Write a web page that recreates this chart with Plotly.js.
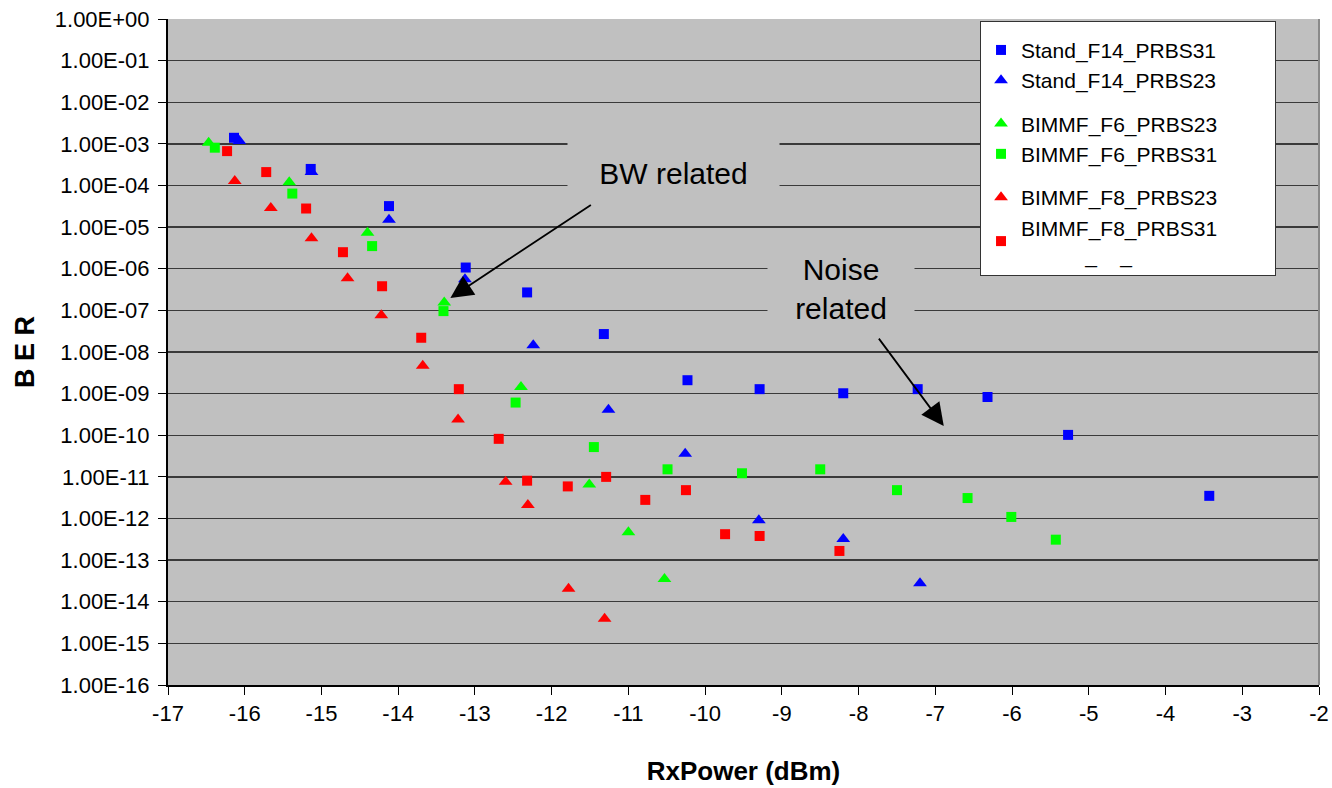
<!DOCTYPE html>
<html>
<head>
<meta charset="utf-8">
<script src="https://cdn.plot.ly/plotly-3.0.1.min.js"></script>
<style>html,body{margin:0;padding:0;background:#fff;}#chart{width:1332px;height:788px;}</style>
</head>
<body>
<div id="chart"></div>
<script>
// ---- data ----
const seriesNames = ["Stand_F14_PRBS31", "Stand_F14_PRBS23", "BIMMF_F6_PRBS23", "BIMMF_F6_PRBS31", "BIMMF_F8_PRBS23", "BIMMF_F8_PRBS31"];

const f14_31_x = [-16.14, -15.14, -14.12, -13.12, -12.32, -11.32, -10.23, -9.29, -8.20, -7.23, -6.32, -5.27, -3.43];
const f14_31_y = [1.4e-3, 2.5e-4, 3.2e-5, 1.07e-6, 2.7e-7, 2.7e-8, 2.1e-9, 1.28e-9, 1.02e-9, 1.28e-9, 8.3e-10, 1.02e-10, 3.5e-12];

const f14_23_x = [-16.07, -15.13, -14.12, -13.13, -12.24, -11.26, -10.26, -9.30, -8.20, -7.20];
const f14_23_y = [1.17e-3, 2.1e-4, 1.5e-5, 5.6e-7, 1.45e-8, 4.1e-10, 3.6e-11, 9.1e-13, 3.2e-13, 2.8e-14];

const f6_23_x = [-16.47, -15.42, -14.40, -13.40, -12.40, -11.51, -11.00, -10.53];
const f6_23_y = [1.07e-3, 1.2e-4, 7.3e-6, 1.55e-7, 1.45e-9, 6.6e-12, 4.7e-13, 3.5e-14];

const f6_31_x = [-16.39, -15.38, -14.34, -13.41, -12.47, -11.45, -10.49, -9.52, -8.50, -7.50, -6.58, -6.01, -5.43];
const f6_31_y = [8.1e-4, 6.4e-5, 3.5e-6, 9.6e-8, 6.1e-10, 5.2e-11, 1.52e-11, 1.22e-11, 1.52e-11, 4.8e-12, 3.1e-12, 1.09e-12, 3.1e-13];

const f8_23_x = [-16.13, -15.66, -15.13, -14.66, -14.22, -13.68, -13.22, -12.60, -12.31, -11.78, -11.31];
const f8_23_y = [1.28e-4, 2.9e-5, 5.4e-6, 5.9e-7, 7.6e-8, 4.7e-9, 2.4e-10, 7.6e-12, 2.1e-12, 2.06e-14, 3.9e-15];

const f8_31_x = [-16.23, -15.72, -15.20, -14.72, -14.21, -13.70, -13.21, -12.69, -12.32, -11.79, -11.29, -10.78, -10.25, -9.74, -9.29, -8.25];
const f8_31_y = [6.7e-4, 2.1e-4, 2.8e-5, 2.5e-6, 3.8e-7, 2.2e-8, 1.28e-9, 8.2e-11, 8.1e-12, 5.9e-12, 1.0e-11, 2.8e-12, 4.8e-12, 4.2e-13, 3.8e-13, 1.66e-13];

const yTickExponents = [0, -1, -2, -3, -4, -5, -6, -7, -8, -9, -10, -11, -12, -13, -14, -15, -16];
const xTickValues = [-17, -16, -15, -14, -13, -12, -11, -10, -9, -8, -7, -6, -5, -4, -3, -2];

const xTitle = "RxPower (dBm)";
const yTitle = "B E R";
const bwLabel = "BW related";
const noiseLabel = "Noise<br>related";

// ---- build ----
const FONT = '"Liberation Sans", Arial, sans-serif';
const NB = n => "\u00a0".repeat(n);
const yTickVals = yTickExponents.map(e => Math.pow(10, e));
const yTickText = yTickExponents.map(e => "1.00E" + (e < 0 ? "-" : "+") + String(Math.abs(e)).padStart(2, "0"));
const PAD = NB(9);
// the reference legend's last entry carries a stray second line of two underscores
const lastEntryTail = "<br>" + NB(11) + "_" + NB(4) + "_";

function tr(label, x, y, color, symbol, size, group) {
  return {type: "scatter", mode: "markers", name: label, x: x, y: y, legendgroup: group,
          marker: {color: color, symbol: symbol, size: size, line: {width: 0}}};
}
const data = [
  tr(seriesNames[0] + PAD, f14_31_x, f14_31_y, "#0000FF", "square", 10, "g1"),
  tr(seriesNames[1] + PAD, f14_23_x, f14_23_y, "#0000FF", "triangle-up", 12, "g1"),
  tr(seriesNames[2] + PAD, f6_23_x, f6_23_y, "#00FF00", "triangle-up", 12, "g2"),
  tr(seriesNames[3] + PAD, f6_31_x, f6_31_y, "#00FF00", "square", 10, "g2"),
  tr(seriesNames[4] + PAD, f8_23_x, f8_23_y, "#FF0000", "triangle-up", 12, "g3"),
  tr(seriesNames[5] + PAD + lastEntryTail, f8_31_x, f8_31_y, "#FF0000", "square", 10, "g3")
];

const layout = {
  width: 1332, height: 788,
  margin: {l: 168, r: 13, t: 19, b: 103},
  paper_bgcolor: "#FFFFFF",
  plot_bgcolor: "#C0C0C0",
  font: {family: FONT, color: "#000", size: 22},
  showlegend: true,
  xaxis: {
    range: [-17, -2], tickvals: xTickValues, ticktext: xTickValues.map(String),
    showgrid: false, zeroline: false,
    showline: true, linecolor: "#000", linewidth: 2,
    ticks: "outside", ticklen: 8, tickcolor: "#000", tickwidth: 1,
    tickfont: {family: FONT, size: 22},
    title: {text: "<b>" + xTitle + "</b>", font: {family: FONT, size: 26}, standoff: 36},
    automargin: false
  },
  yaxis: {
    type: "log", range: [-16, 0],
    tickvals: yTickVals, ticktext: yTickText,
    showgrid: true, gridcolor: "#3A3A3A", gridwidth: 1.3,
    zeroline: false,
    showline: true, linecolor: "#000", linewidth: 2,
    ticks: "outside", ticklen: 8, tickcolor: "#000", tickwidth: 1,
    ticklabelstandoff: 4,
    tickfont: {family: FONT, size: 22},
    title: {text: "<b>" + yTitle + "</b>", font: {family: FONT, size: 27}, standoff: 12},
    automargin: false
  },
  legend: {
    x: 0.7055, y: 0.997, xanchor: "left", yanchor: "top",
    bgcolor: "#FFFFFF", bordercolor: "#333333", borderwidth: 1,
    font: {family: FONT, size: 21},
    title: {text: "\u00a0", font: {family: FONT, size: 6}},
    traceorder: "grouped", tracegroupgap: 13,
    itemwidth: 30
  },
  shapes: [
    {type: "line", xref: "paper", yref: "paper", x0: 1, x1: 1, y0: 0, y1: 1,
     line: {color: "#8A8A8A", width: 2}}
  ],
  annotations: [
    {xref: "x", yref: "y", x: -10.41, y: -3.69, text: bwLabel, showarrow: false,
     font: {family: FONT, size: 30}, bgcolor: "#C0C0C0", width: 211, height: 68, borderpad: 0},
    {xref: "x", yref: "y", x: -8.23, y: -6.49, text: noiseLabel, showarrow: false,
     font: {family: FONT, size: 30}, bgcolor: "#C0C0C0", width: 146, height: 90, borderpad: 0},
    {xref: "x", yref: "y", x: -13.32, y: -6.70, ax: 142, ay: -94, text: "", showarrow: true,
     arrowhead: 2, arrowsize: 2.5, arrowwidth: 1.8, arrowcolor: "#000", standoff: 0},
    {xref: "x", yref: "y", x: -6.89, y: -9.78, ax: -66, ay: -89, text: "", showarrow: true,
     arrowhead: 2, arrowsize: 2.5, arrowwidth: 1.8, arrowcolor: "#000", standoff: 0}
  ]
};

Plotly.newPlot("chart", data, layout, {displayModeBar: false, staticPlot: true});
</script>
</body>
</html>
